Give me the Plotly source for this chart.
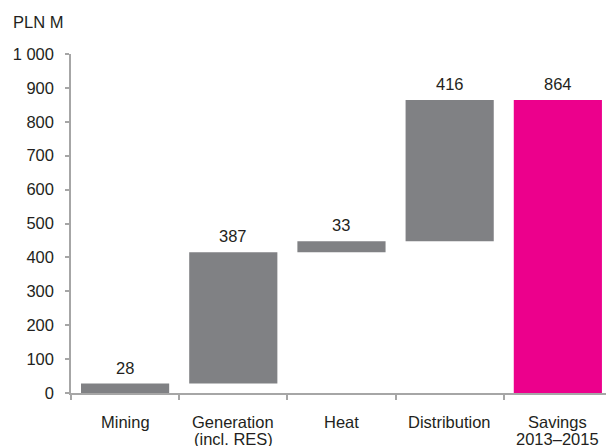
import plotly.graph_objects as go

categories = ["Mining", "Generation", "Heat", "Distribution", "Savings"]
label_line1 = ["Mining", "Generation", "Heat", "Distribution", "Savings"]
label_line2 = ["", "(incl. RES)", "", "", "2013–2015"]
values = [28, 387, 33, 416, 864]
is_total = [False, False, False, False, True]
y_ticks = list(range(0, 1001, 100))

GRAY = "#808184"
PINK = "#EC008C"
AXIS = "#A6A6A6"
TXT = "#231F20"
FONT = "Liberation Sans, Arial, sans-serif"
FS = 16.5

bases, tops = [], []
running = 0
for v, t in zip(values, is_total):
    if t:
        bases.append(0)
        tops.append(v)
    else:
        bases.append(running)
        running += v
        tops.append(running)

colors = [PINK if t else GRAY for t in is_total]

fig = go.Figure()
fig.add_trace(go.Bar(
    x=categories, y=values, base=bases,
    marker=dict(color=colors, line=dict(width=0)),
    hoverinfo="skip",
))

annotations = []
for c, v, top in zip(categories, values, tops):
    annotations.append(dict(x=c, y=top, xref="x", yref="y", text=str(v),
                            showarrow=False, yanchor="middle", yshift=16,
                            font=dict(family=FONT, size=FS, color=TXT)))
for c, l1, l2 in zip(categories, label_line1, label_line2):
    annotations.append(dict(x=c, y=0, xref="x", yref="y", text=l1,
                            showarrow=False, yanchor="middle", yshift=-29,
                            font=dict(family=FONT, size=FS, color=TXT)))
    if l2:
        annotations.append(dict(x=c, y=0, xref="x", yref="y", text=l2,
                                showarrow=False, yanchor="middle", yshift=-46,
                                font=dict(family=FONT, size=FS, color=TXT)))
annotations.append(dict(x=0, y=1, xref="paper", yref="paper", text="PLN M",
                        showarrow=False, xanchor="left", yanchor="middle",
                        xshift=-60, yshift=32,
                        font=dict(family=FONT, size=FS, color=TXT)))

fig.update_layout(
    width=606, height=446,
    margin=dict(l=71, r=0, t=54, b=53),
    paper_bgcolor="white", plot_bgcolor="white",
    bargap=0.185,
    showlegend=False,
    separators=". ",
    font=dict(family=FONT, size=FS, color=TXT),
    annotations=annotations,
    xaxis=dict(
        type="category", range=[-0.5, 4.445],
        showticklabels=False, showgrid=False, zeroline=False,
        showline=True, linecolor=AXIS, linewidth=1.5,
        ticks="outside", tickson="boundaries", ticklen=5, tickcolor=AXIS, tickwidth=1.5,
    ),
    yaxis=dict(
        range=[0, 1000], tickvals=y_ticks, tickformat=",d",
        showgrid=False, zeroline=False,
        showline=True, linecolor=AXIS, linewidth=1.5,
        ticks="outside", ticklen=4, tickcolor=AXIS, tickwidth=1.5,
        ticklabelstandoff=8,
        tickfont=dict(family=FONT, size=FS, color=TXT),
    ),
)

fig.write_html("out.html")
